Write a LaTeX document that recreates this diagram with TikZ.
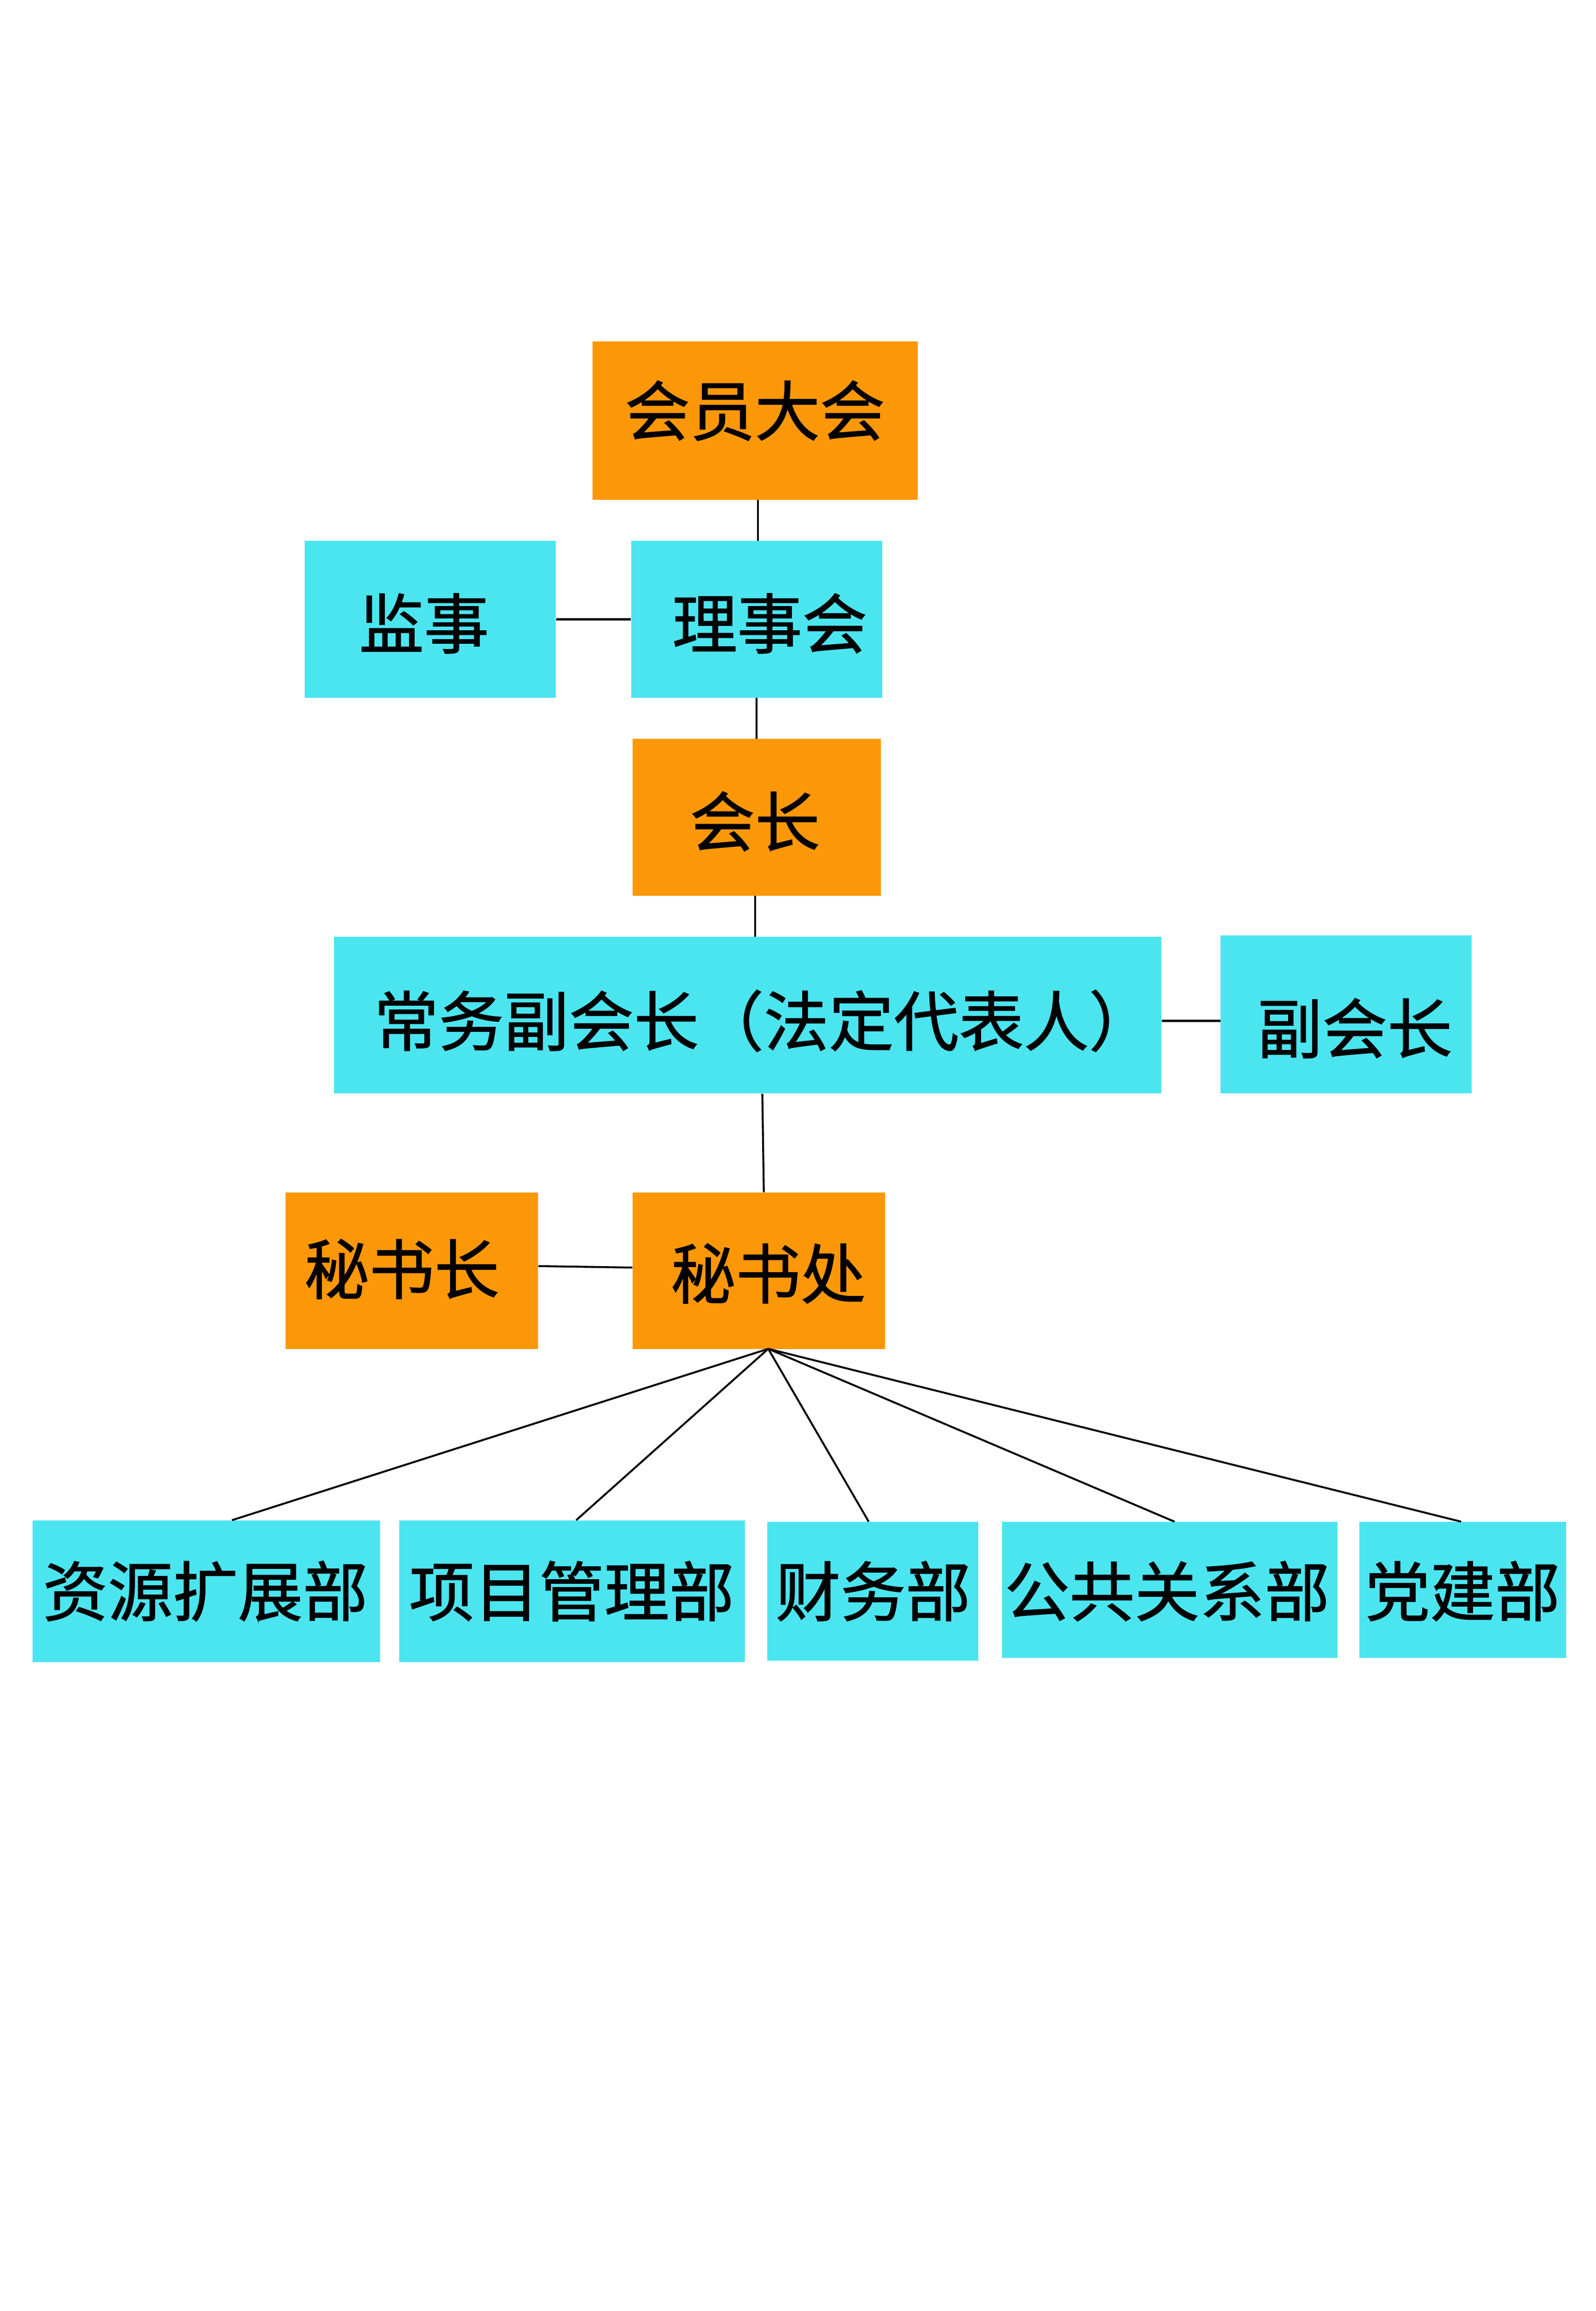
\documentclass[tikz,border=0pt]{standalone}
\usepackage{fontspec}
\setmainfont{Noto Sans CJK SC}[FakeBold=1.2]
\definecolor{orgbox}{HTML}{FC9808}
\definecolor{cyanbox}{HTML}{4BE5F0}
\begin{document}
\begin{tikzpicture}[x=1pt,y=-1pt,
  box/.style={draw=none,inner sep=0pt,anchor=north west},
  org/.style={box,fill=orgbox},
  cy/.style={box,fill=cyanbox},
  txt/.style={font=\fontsize{44}{46}\selectfont,inner sep=0pt,text=black},
  link/.style={draw=black,line width=1.3pt}]
\useasboundingbox (0,0) rectangle (1080,1564.3);
\fill[white] (0,0) rectangle (1080,1564.3);
% boxes
\node[org,minimum width=220pt,minimum height=107pt] (hyd) at (401,231) {};
\node[cy,minimum width=170pt,minimum height=106pt] (js) at (206,366) {};
\node[cy,minimum width=170pt,minimum height=106pt] (lsh) at (427,366) {};
\node[org,minimum width=168pt,minimum height=106pt] (hz) at (428,500) {};
\node[cy,minimum width=560pt,minimum height=106pt] (cw) at (226,634) {};
\node[cy,minimum width=170pt,minimum height=107pt] (fhz) at (826,633) {};
\node[org,minimum width=171pt,minimum height=106pt] (msz) at (193,807) {};
\node[org,minimum width=171pt,minimum height=106pt] (msc) at (428,807) {};
\node[cy,minimum width=235pt,minimum height=96pt] (d1) at (22,1029) {};
\node[cy,minimum width=234pt,minimum height=96pt] (d2) at (270,1029) {};
\node[cy,minimum width=143pt,minimum height=94pt] (d3) at (519,1030) {};
\node[cy,minimum width=227pt,minimum height=92pt] (d4) at (678,1030) {};
\node[cy,minimum width=140pt,minimum height=92pt] (d5) at (920,1030) {};
% texts
\node[txt] (t1) at (511,278) {会员大会};
\node[txt] (t2) at (287,422) {监事};
\node[txt] (t3) at (521,422) {理事会};
\node[txt] (t4) at (511,556) {会长};
\node[txt] (t5) at (517,691) {常务副会长（法定代表人）};
\node[txt] (t6) at (917,696) {副会长};
\node[txt] (t7) at (272,859) {秘书长};
\node[txt] (t8) at (520,862) {秘书处};
\node[txt] (t9) at (139,1077) {资源扩展部};
\node[txt] (t10) at (387,1077) {项目管理部};
\node[txt] (t11) at (591,1077) {财务部};
\node[txt] (t12) at (790,1077) {公共关系部};
\node[txt] (t13) at (990,1077) {党建部};
% connectors
\draw[link] (hyd.south -| 513,0) -- (lsh.north -| 513,0);
\draw[link] (js.east) -- (lsh.west);
\draw[link] (lsh.south -| 512,0) -- (hz.north -| 512,0);
\draw[link] (hz.south -| 511,0) -- (cw.north -| 511,0);
\draw[link] (cw.east |- 0,691) -- (fhz.west |- 0,691);
\draw[link] (cw.south -| 516,0) -- (msc.north -| 517,0);
\draw[link] (msz.east |- 0,857) -- (msc.west |- 0,858);
\coordinate (fan) at (520,913);
\draw[link] (fan) -- (d1.north -| 157,0);
\draw[link] (fan) -- (d2.north -| 390,0);
\draw[link] (fan) -- (d3.north -| 588,0);
\draw[link] (fan) -- (d4.north -| 795,0);
\draw[link] (fan) -- (d5.north -| 989,0);
\end{tikzpicture}
\end{document}
